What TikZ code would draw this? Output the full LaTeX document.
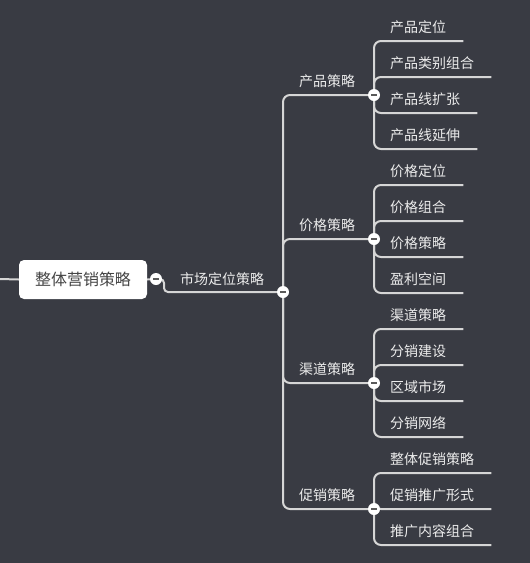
\documentclass[tikz,border=0pt]{standalone}
\usepackage{fontspec}
\newfontfamily\cjk{Noto Sans CJK SC}
\definecolor{bgc}{HTML}{393B43}
\definecolor{lnc}{HTML}{D6D6D6}
\definecolor{txc}{HTML}{ECECEC}
\definecolor{rootc}{HTML}{444444}
\definecolor{minc}{HTML}{5A5A5A}
\pgfdeclarelayer{bglayer}
\pgfdeclarelayer{linelayer}
\pgfsetlayers{bglayer,linelayer,main}
\tikzset{
  conn/.style={draw=lnc, line width=2pt, rounded corners=7pt},
  rootbox/.style={fill=white, rounded corners=5pt, minimum width=128pt, minimum height=39pt, inner sep=0pt, text=rootc, font=\cjk\fontsize{16}{16}\selectfont},
  tog/.style={circle, fill=white, minimum size=12pt, inner sep=0pt,
    path picture={\draw[minc, line width=2.2pt] ([xshift=-3pt]path picture bounding box.center) -- ([xshift=3pt]path picture bounding box.center);}},
  lab/.style={text=txc, inner sep=0pt, font=\cjk\fontsize{14}{14}\selectfont},
  leaf/.style={text=txc, inner sep=0pt, minimum height=28pt, anchor=south west, font=\cjk\fontsize{14}{14}\selectfont},
}
\begin{document}
\begin{tikzpicture}[x=1pt,y=-1pt]
\begin{pgfonlayer}{bglayer}
\fill[bgc] (0,0) rectangle (530,563);
\end{pgfonlayer}
\useasboundingbox (0,0) rectangle (530,563);

% root
\coordinate (lft) at (0,279);
\node[rootbox] (root) at (83,279.5) {整体营销策略};
\node[tog] (t0) at (156,279) {};
\node[lab] (lm) at (222,279) {市场定位策略};
\node[tog] (t1) at (283,292) {};

% level 2
\node[tog] (tp) at (374,95) {};
\node[tog] (tj) at (374,239) {};
\node[tog] (tq) at (374,383) {};
\node[tog] (tc) at (374,509) {};
\node[lab] (lp) at (327,81) {产品策略};
\node[lab] (lj) at (327,225) {价格策略};
\node[lab] (lq) at (327,369) {渠道策略};
\node[lab] (lc) at (327,495) {促销策略};

% leaves
\node[leaf] (p1) at (390,41) {产品定位};
\node[leaf] (p2) at (390,77) {产品类别组合};
\node[leaf] (p3) at (390,113) {产品线扩张};
\node[leaf] (p4) at (390,149) {产品线延伸};

\node[leaf] (j1) at (390,185) {价格定位};
\node[leaf] (j2) at (390,221) {价格组合};
\node[leaf] (j3) at (390,257) {价格策略};
\node[leaf] (j4) at (390,293) {盈利空间};

\node[leaf] (q1) at (390,329) {渠道策略};
\node[leaf] (q2) at (390,365) {分销建设};
\node[leaf] (q3) at (390,401) {区域市场};
\node[leaf] (q4) at (390,437) {分销网络};

\node[leaf] (c1) at (390,473) {整体促销策略};
\node[leaf] (c2) at (390,509) {促销推广形式};
\node[leaf] (c3) at (390,545) {推广内容组合};

\begin{pgfonlayer}{linelayer}
\draw[conn] (lft) -- (root.west);
\draw[conn] (root.east) -- (t0.center);
\draw[conn, rounded corners=4pt] (t0.center) -- ++(8,0) |- (t1.center);
\foreach \t in {tp,tj,tq,tc} \draw[conn] (t1.center) |- (\t.center);
\foreach \t/\l in {tp/p1,tp/p2,tp/p3,tp/p4,tj/j1,tj/j2,tj/j3,tj/j4,tq/q1,tq/q2,tq/q3,tq/q4,tc/c1,tc/c2,tc/c3}
  \draw[conn] (\t.center) |- ([xshift=17pt]\l.south east);
\end{pgfonlayer}
\end{tikzpicture}
\end{document}
